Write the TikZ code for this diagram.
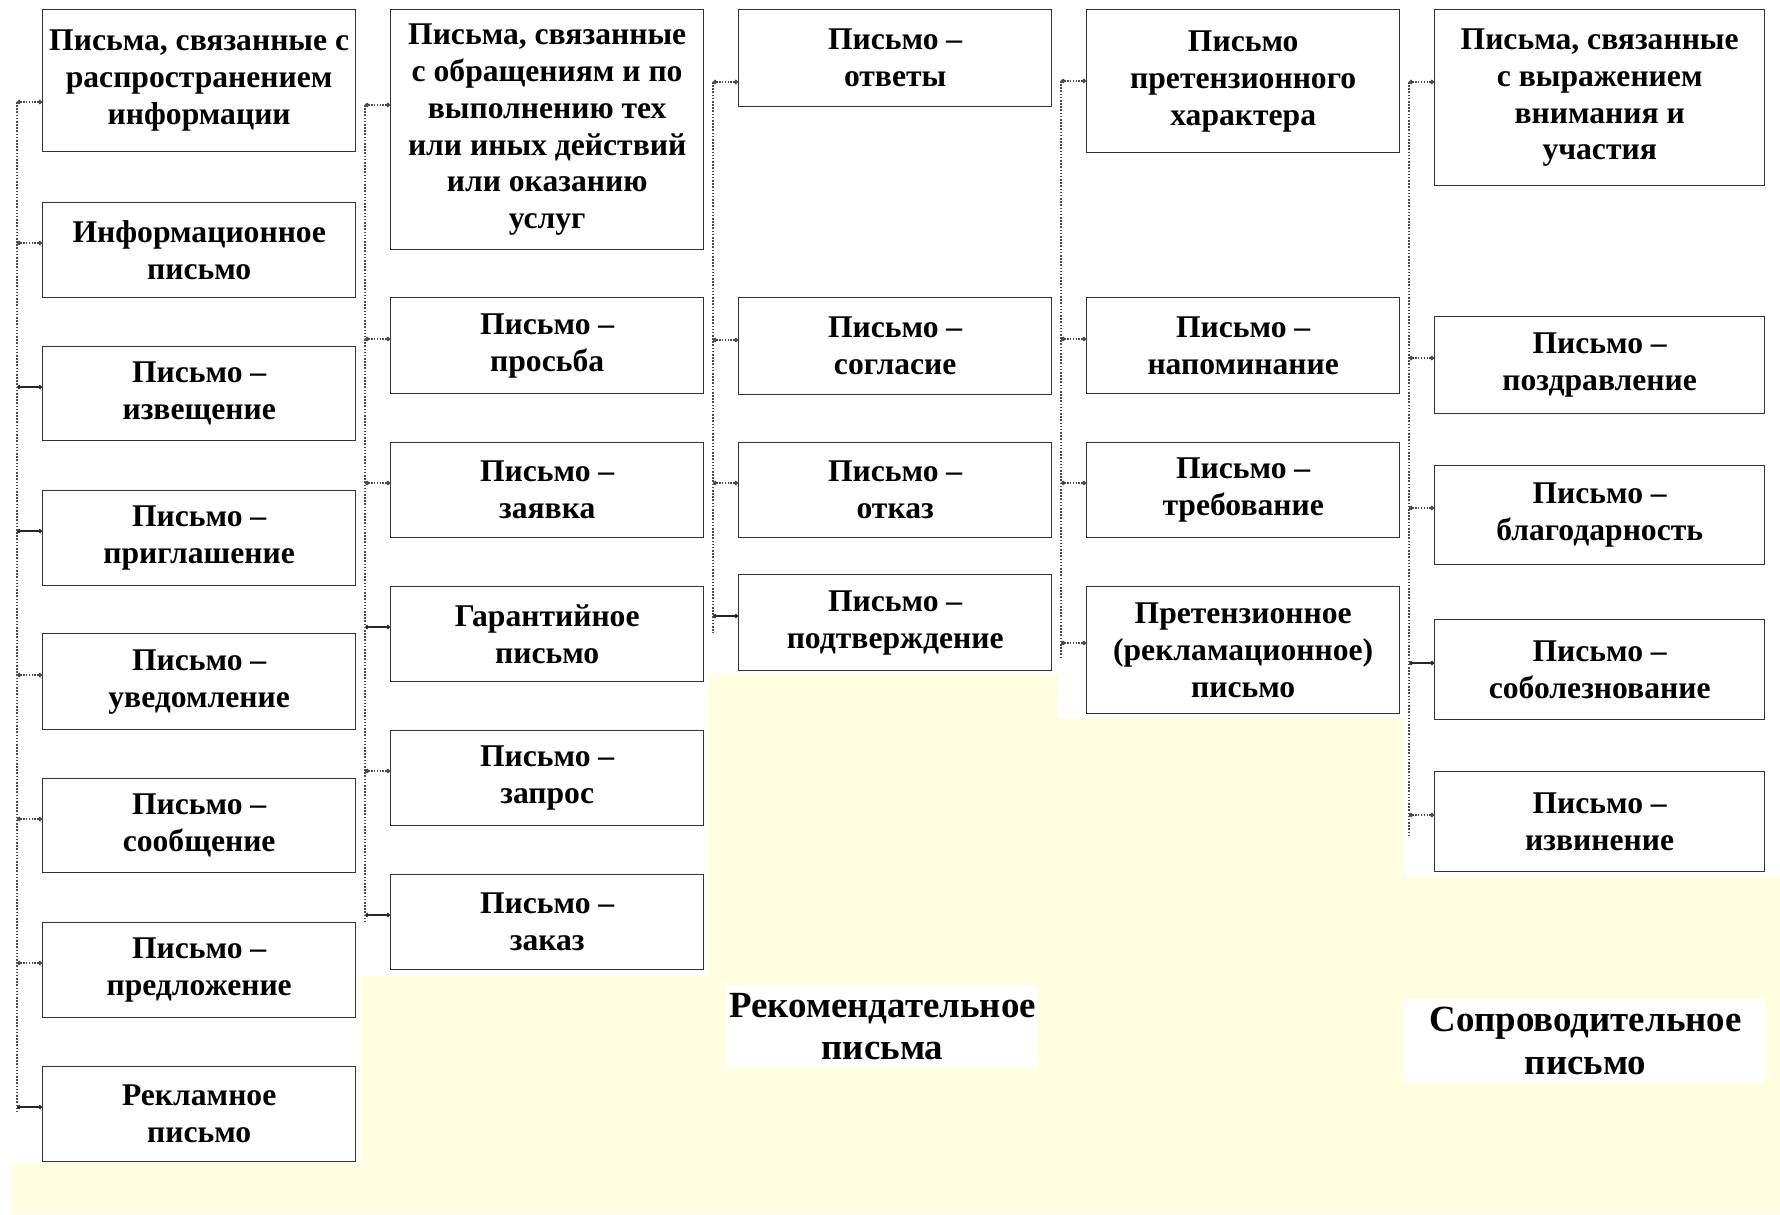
\documentclass[tikz,border=0pt]{standalone}
\usepackage{fontspec}
\setmainfont{Liberation Serif}
\usepackage{xcolor}
\usepackage{tikz}
\usetikzlibrary{arrows.meta}
\definecolor{paleyellow}{RGB}{255,254,224}

\begin{document}
\begin{tikzpicture}[x=0.02cm,y=-0.02cm,
  box/.style={draw=black!80,line width=0.8pt,fill=white,anchor=north west,align=center,
    inner sep=1pt,font=\bfseries\fontsize{18}{21}\selectfont},
  trunk/.style={draw=black!70,line width=1.6pt,dash pattern=on 0.9pt off 0.9pt},
  solidstub/.style={draw=black!85,line width=0.7pt,{Circle[length=2.4pt]}-{Circle[length=2.4pt]}},
  dotstub/.style={draw=black!70,line width=0.9pt,dash pattern=on 0.8pt off 0.8pt,{Circle[length=2.4pt]}-{Circle[length=2.4pt]}},
  caption/.style={fill=white,align=center,inner sep=0pt,font=\bfseries\fontsize{21}{24}\selectfont}]
  \useasboundingbox (0,0) rectangle (1780,1214);
  \fill[paleyellow] (11,675) rectangle (1780,1214);
  \fill[white] (0,0) rectangle (361,1164);
  \fill[white] (361,0) rectangle (709,976);
  \fill[white] (1058,0) rectangle (1405,718);
  \fill[white] (1405,0) rectangle (1780,877);

  \foreach \c/\i/\ya/\yb/\ys/\st/\txt in {
      1/1/9/151/102/dotstub/{Письма, связанные с\\распространением\\информации},
      1/2/202/297/243/dotstub/{Информационное\\письмо},
      1/3/346/440/387/solidstub/{Письмо –\\извещение},
      1/4/490/585/531/solidstub/{Письмо –\\приглашение},
      1/5/633/729/675/dotstub/{Письмо –\\уведомление},
      1/6/778/872/819/dotstub/{Письмо –\\сообщение},
      1/7/922/1017/963/dotstub/{Письмо –\\предложение},
      1/8/1066/1161/1107/solidstub/{Рекламное\\письмо},
      2/1/9/249/105/dotstub/{Письма, связанные\\с обращениям и по\\выполнению тех\\или иных действий\\или оказанию\\услуг},
      2/2/297/393/339/dotstub/{Письмо –\\просьба},
      2/3/442/537/483/dotstub/{Письмо –\\заявка},
      2/4/586/681/627/solidstub/{Гарантийное\\письмо},
      2/5/730/825/771/dotstub/{Письмо –\\запрос},
      2/6/874/969/915/solidstub/{Письмо –\\заказ},
      3/1/9/106/82/dotstub/{Письмо –\\ответы},
      3/2/297/394/340/dotstub/{Письмо –\\согласие},
      3/3/442/537/483/dotstub/{Письмо –\\отказ},
      3/4/574/670/616/solidstub/{Письмо –\\подтверждение},
      4/1/9/152/81/dotstub/{Письмо\\претензионного\\характера},
      4/2/297/393/339/dotstub/{Письмо –\\напоминание},
      4/3/442/537/483/dotstub/{Письмо –\\требование},
      4/4/586/713/643/dotstub/{Претензионное\\(рекламационное)\\письмо},
      5/1/9/185/82/dotstub/{Письма, связанные\\с выражением\\внимания и\\участия},
      5/2/316/413/358/dotstub/{Письмо –\\поздравление},
      5/3/465/564/508/dotstub/{Письмо –\\благодарность},
      5/4/619/719/663/solidstub/{Письмо –\\соболезнование},
      5/5/771/871/815/dotstub/{Письмо –\\извинение}}{
    \pgfmathsetmacro{\x}{42+348*(\c-1)}
    \pgfmathsetmacro{\tx}{17+348*(\c-1)}
    \pgfmathsetmacro{\bh}{(\yb-\ya)*0.02}
    \ifnum\c=5
      \node[box,minimum width=6.6cm,minimum height=\bh cm] (b\c-\i) at (\x,\ya) {\txt};
    \else
      \node[box,minimum width=6.26cm,minimum height=\bh cm] (b\c-\i) at (\x,\ya) {\txt};
    \fi
    \coordinate (s\c-\i) at (\tx,\ys);
    \draw[\st] (s\c-\i) -- (s\c-\i -| b\c-\i.west);
  }

  \foreach \c/\n/\e in {1/8/4,2/6/7,3/4/17,4/4/15,5/5/21}
    \draw[trunk] (s\c-1) -- (s\c-\n) -- ++(0,\e);

  \node[caption,minimum width=6.22cm,minimum height=1.66cm] (rek) at (882.5,1026.5) {Рекомендательное\\письма};
  \node[caption,minimum width=7.22cm,minimum height=1.68cm] (sop) at (1585.5,1041) {Сопроводительное\\письмо};
\end{tikzpicture}
\end{document}
